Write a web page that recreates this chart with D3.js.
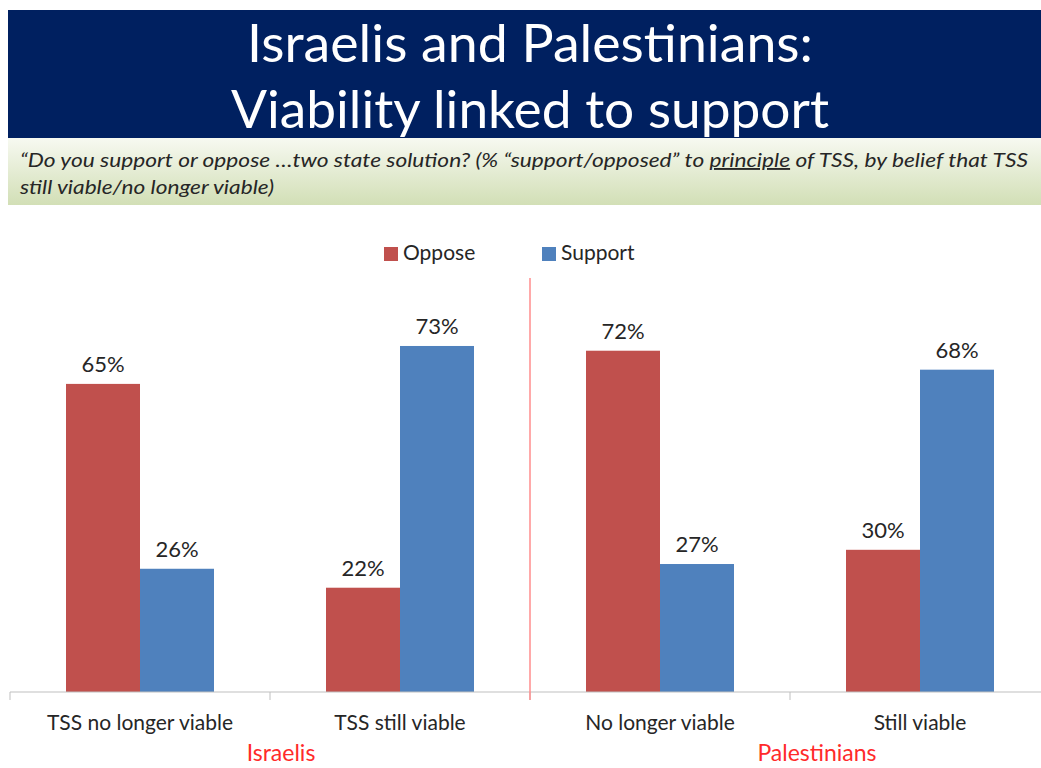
<!DOCTYPE html>
<html><head><meta charset="utf-8">
<script src="https://cdn.jsdelivr.net/npm/d3@7"></script>
<style>body{margin:0;background:#fff}svg{display:block}</style>
</head><body>
<script>
const categories = ["TSS no longer viable","TSS still viable","No longer viable","Still viable"];
const groups = ["Israelis","Palestinians"];
const seriesNames = ["Oppose","Support"];
const oppose = [65,22,72,30];
const support = [26,73,27,68];
const titleLines = ["Israelis and Palestinians:","Viability linked to support"];
const subtitleLines = ["\u201cDo you support or oppose \u2026two state solution? (% \u201csupport/opposed\u201d to ", "still viable/no longer viable)"];

const W=1041,H=768;
const svg=d3.select("body").append("svg").attr("width",W).attr("height",H);
const font="Lato, 'Open Sans', sans-serif";

// banner
svg.append("rect").attr("x",8).attr("y",10).attr("width",W-8).attr("height",128).attr("fill","#002060");
svg.selectAll("text.title").data(titleLines).join("text").attr("class","title")
  .attr("x",530).attr("y",(d,i)=>62+i*66).attr("text-anchor","middle")
  .attr("fill","#fff").attr("font-family",font).attr("font-size",53)
  .attr("textLength",(d,i)=>i?598:566).attr("lengthAdjust","spacingAndGlyphs")
  .text(d=>d);

// subtitle band
const defs=svg.append("defs");
const g=defs.append("linearGradient").attr("id","sg").attr("x1",0).attr("y1",0).attr("x2",0).attr("y2",1);
g.append("stop").attr("offset","0%").attr("stop-color","#f7f9f1");
g.append("stop").attr("offset","100%").attr("stop-color","#d2dfb6");
svg.append("rect").attr("x",8).attr("y",138).attr("width",W-8).attr("height",67).attr("fill","url(#sg)");
const st=svg.append("text").attr("x",20).attr("y",167).attr("font-family",font).attr("font-style","italic")
  .attr("font-size",19).attr("fill","#262626").attr("textLength",1008).attr("lengthAdjust","spacingAndGlyphs");
st.append("tspan").text(subtitleLines[0]);
st.append("tspan").attr("text-decoration","underline").text("principle");
st.append("tspan").text(" of TSS, by belief that TSS");
svg.append("text").attr("x",20).attr("y",194).attr("font-family",font).attr("font-style","italic")
  .attr("font-size",19).attr("fill","#262626").attr("textLength",254).attr("lengthAdjust","spacingAndGlyphs")
  .text(subtitleLines[1]);

// scales
const x0=d3.scaleBand().domain(categories).range([10,1050]).paddingInner(0).paddingOuter(0);
const x1=d3.scaleBand().domain(seriesNames).range([56,x0.bandwidth()-56]).paddingInner(0).paddingOuter(0);
const y=d3.scaleLinear().domain([0,100]).range([692,218]);
const color=d3.scaleOrdinal().domain(seriesNames).range(["#C0504D","#4F81BD"]);

const data=categories.map((c,i)=>({cat:c,vals:[{k:"Oppose",v:oppose[i]},{k:"Support",v:support[i]}]}));
const cg=svg.selectAll("g.cat").data(data).join("g").attr("class","cat").attr("transform",d=>`translate(${x0(d.cat)},0)`);
cg.selectAll("rect").data(d=>d.vals).join("rect")
  .attr("x",d=>x1(d.k)).attr("width",x1.bandwidth())
  .attr("y",d=>y(d.v)).attr("height",d=>y(0)-y(d.v)).attr("fill",d=>color(d.k));
cg.selectAll("text.lbl").data(d=>d.vals).join("text").attr("class","lbl")
  .attr("x",d=>x1(d.k)+x1.bandwidth()/2).attr("y",d=>y(d.v)-12)
  .attr("text-anchor","middle").attr("font-family",font).attr("font-size",22).attr("fill","#262626")
  .text(d=>d.v+"%");

// axis
const ax=svg.append("g").attr("transform",`translate(0,${y(0)})`)
  .call(d3.axisBottom(x0).tickSize(0));
ax.select(".domain").attr("stroke","#bfbfbf").attr("d","M10,0H1041");
ax.selectAll(".tick text").attr("font-family",font).attr("font-size",21).attr("fill","#262626")
  .attr("y",38).attr("dy",0);
svg.selectAll("line.sep").data(categories.map(c=>x0(c))).join("line").attr("class","sep")
  .attr("x1",d=>d).attr("x2",d=>d).attr("y1",y(0)).attr("y2",y(0)+8).attr("stroke","#bfbfbf");

// divider
svg.append("line").attr("x1",x0(categories[2])).attr("x2",x0(categories[2])).attr("y1",278).attr("y2",700)
  .attr("stroke","#ff8c8c").attr("stroke-width",1.5);

// group labels
svg.selectAll("text.grp").data(groups).join("text").attr("class","grp")
  .attr("x",(d,i)=>i?817:281).attr("y",761).attr("text-anchor","middle")
  .attr("font-family",font).attr("font-size",23).attr("fill","#ff2a2a").text(d=>d);

// legend
const lg=svg.selectAll("g.leg").data(seriesNames).join("g").attr("class","leg")
  .attr("transform",(d,i)=>`translate(${i?542:384},0)`);
lg.append("rect").attr("x",0).attr("y",247).attr("width",14).attr("height",14).attr("fill",d=>color(d));
lg.append("text").attr("x",19).attr("y",260).attr("font-family",font).attr("font-size",21).attr("fill","#262626").text(d=>d);
</script>
</body></html>
